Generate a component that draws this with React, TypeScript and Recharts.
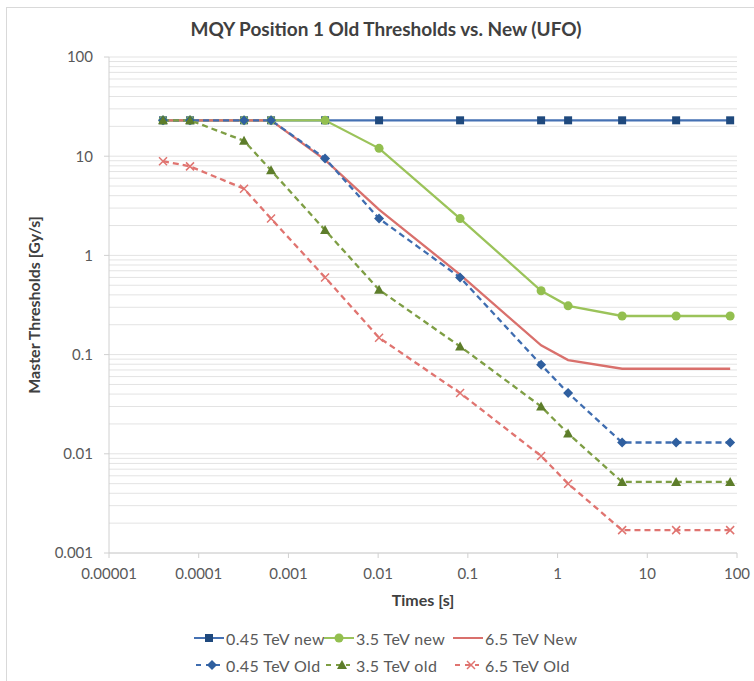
import React from 'react';
import { LineChart, Line, XAxis, YAxis, CartesianGrid } from 'recharts';

// BLM running-sum integration times [s]
const times = [4e-5, 8e-5, 3.2e-4, 6.4e-4, 2.56e-3, 1.024e-2, 8.192e-2, 0.65536, 1.31072, 5.24288, 20.97152, 83.88608];

const new045 = [23, 23, 23, 23, 23, 23, 23, 23, 23, 23, 23, 23];
const new35 = [23, 23, 23, 23, 23, 12, 2.35, 0.44, 0.31, 0.245, 0.245, 0.245];
const new65 = [23, 23, 23, 23, 9.2, 2.9, 0.64, 0.124, 0.088, 0.072, 0.072, 0.072];
const old045 = [23, 23, 23, 23, 9.5, 2.35, 0.6, 0.079, 0.041, 0.013, 0.013, 0.013];
const old35 = [23, 23, 14.3, 7.2, 1.8, 0.45, 0.121, 0.03, 0.016, 0.0052, 0.0052, 0.0052];
const old65 = [8.9, 7.9, 4.7, 2.35, 0.6, 0.148, 0.041, 0.0095, 0.005, 0.0017, 0.0017, 0.0017];

const xTicks = [1e-5, 1e-4, 1e-3, 1e-2, 1e-1, 1, 10, 100];
const xTickLabels = ['0.00001', '0.0001', '0.001', '0.01', '0.1', '1', '10', '100'];
const yTicks = [0.001, 0.01, 0.1, 1, 10, 100];
const yTickLabels = ['0.001', '0.01', '0.1', '1', '10', '100'];
// major + minor horizontal gridlines
const yGrid = [0.001, 0.002, 0.003, 0.004, 0.005, 0.006, 0.007, 0.008, 0.009,
  0.01, 0.02, 0.03, 0.04, 0.05, 0.06, 0.07, 0.08, 0.09,
  0.1, 0.2, 0.3, 0.4, 0.5, 0.6, 0.7, 0.8, 0.9,
  1, 2, 3, 4, 5, 6, 7, 8, 9,
  10, 20, 30, 40, 50, 60, 70, 80, 90, 100];

const data = times.map((t, i) => ({
  t,
  new045: new045[i],
  new35: new35[i],
  new65: new65[i],
  old045: old045[i],
  old35: old35[i],
  old65: old65[i],
}));

type Shape = 'square' | 'circle' | 'diamond' | 'triangle' | 'cross' | 'none';

const series: { key: string; name: string; stroke: string; dash?: string; marker: Shape; fill: string }[] = [
  { key: 'new045', name: '0.45 TeV new', stroke: '#4571b3', marker: 'square', fill: '#1f497d' },
  { key: 'new35', name: '3.5 TeV new', stroke: '#9bc35a', marker: 'circle', fill: '#93bf4f' },
  { key: 'new65', name: '6.5 TeV New', stroke: '#d9706c', marker: 'none', fill: '#d9706c' },
  { key: 'old045', name: '0.45 TeV Old', stroke: '#3f6db0', dash: '6 4', marker: 'diamond', fill: '#2f5f9f' },
  { key: 'old35', name: '3.5 TeV old', stroke: '#7e9e44', dash: '6 4', marker: 'triangle', fill: '#5d7d2a' },
  { key: 'old65', name: '6.5 TeV Old', stroke: '#e07470', dash: '6 4', marker: 'cross', fill: '#e07470' },
];

const FONT = 'Lato, "Open Sans", sans-serif';
const TEXT = '#595959';

function Marker({ cx, cy, shape, fill }: { cx: number; cy: number; shape: Shape; fill: string }) {
  if (cx == null || cy == null) return null;
  if (shape === 'square') return <rect x={cx - 4} y={cy - 4} width={8} height={8} fill={fill} />;
  if (shape === 'circle') return <circle cx={cx} cy={cy} r={4.5} fill={fill} />;
  if (shape === 'diamond')
    return <path d={`M${cx},${cy - 5}L${cx + 5},${cy}L${cx},${cy + 5}L${cx - 5},${cy}Z`} fill={fill} />;
  if (shape === 'triangle')
    return <path d={`M${cx},${cy - 5}L${cx + 5},${cy + 4}L${cx - 5},${cy + 4}Z`} fill={fill} />;
  if (shape === 'cross')
    return (
      <path
        d={`M${cx - 4},${cy - 4}L${cx + 4},${cy + 4}M${cx - 4},${cy + 4}L${cx + 4},${cy - 4}`}
        stroke={fill}
        strokeWidth={1.5}
      />
    );
  return <g />;
}

function LegendItem({ s }: { s: (typeof series)[number] }) {
  return (
    <div style={{ display: 'flex', alignItems: 'center', height: 20 }}>
      <svg width={30} height={14}>
        {s.dash ? (
          <line x1={2} y1={7} x2={26} y2={7} stroke={s.stroke} strokeWidth={2} strokeDasharray="5 5" />
        ) : (
          <line x1={0} y1={7} x2={30} y2={7} stroke={s.stroke} strokeWidth={2} />
        )}
        <Marker cx={s.dash ? 18 : 15} cy={7} shape={s.marker} fill={s.fill} />
      </svg>
      <span style={{ marginLeft: 2, fontSize: 16, letterSpacing: 0.4, color: TEXT, fontFamily: FONT, whiteSpace: 'nowrap' }}>
        {s.name}
      </span>
    </div>
  );
}

const legendCols = [194, 324, 453];
const legendRows = [628, 655];

export default function App() {
  return (
    <div style={{ position: 'absolute', left: 0, top: 0, width: 754, height: 681, background: '#fff', overflow: 'hidden' }}>
      <div style={{ position: 'absolute', left: 6, top: 7, width: 800, height: 800, borderLeft: '1px solid #d9d9d9', borderTop: '1px solid #d9d9d9' }} />
      <div
        style={{
          position: 'absolute', left: 0, top: 17, width: 772, textAlign: 'center',
          fontFamily: FONT, fontSize: 19, fontWeight: 700, color: '#404040',
        }}
      >
        MQY Position 1 Old Thresholds vs. New (UFO)
      </div>
      <div
        style={{
          position: 'absolute', left: 33, top: 305, transform: 'translate(-50%, -50%) rotate(-90deg)',
          fontFamily: FONT, fontSize: 16, fontWeight: 700, color: '#404040', whiteSpace: 'nowrap',
        }}
      >
        Master Thresholds [Gy/s]
      </div>
      <div
        style={{
          position: 'absolute', left: 423, top: 599, transform: 'translate(-50%, -50%)',
          fontFamily: FONT, fontSize: 16, fontWeight: 700, color: '#404040', whiteSpace: 'nowrap',
        }}
      >
        Times [s]
      </div>
      <div style={{ position: 'absolute', left: 0, top: 0 }}>
        <LineChart width={754} height={681} data={data} margin={{ top: 57, right: 17, bottom: 98, left: 49 }}>
          <CartesianGrid vertical={false} stroke="#e3e3e3" yAxisId="grid" />
          <XAxis
            dataKey="t"
            type="number"
            scale="log"
            domain={[1e-5, 100]}
            ticks={xTicks}
            allowDataOverflow
            height={30}
            stroke="#d0d0d0"
            tickSize={5}
            tickMargin={10}
            tick={{ fill: TEXT, fontSize: 15, fontFamily: FONT }}
            tickFormatter={(v: number) => xTickLabels[xTicks.indexOf(v)] ?? String(v)}
          />
          <YAxis
            yAxisId="grid"
            hide
            type="number"
            scale="log"
            domain={[0.001, 100]}
            ticks={yGrid}
            interval={0}
            allowDataOverflow
          />
          <YAxis
            type="number"
            scale="log"
            domain={[0.001, 100]}
            ticks={yTicks}
            allowDataOverflow
            width={60}
            stroke="#d0d0d0"
            tickSize={5}
            tickMargin={11}
            tick={{ fill: TEXT, fontSize: 15, fontFamily: FONT }}
            tickFormatter={(v: number) => yTickLabels[yTicks.indexOf(v)] ?? String(v)}
          />
          {series.map((s) => (
            <Line
              key={s.key}
              dataKey={s.key}
              name={s.name}
              type="linear"
              stroke={s.stroke}
              strokeWidth={2.3}
              strokeDasharray={s.dash}
              isAnimationActive={false}
              activeDot={false}
              dot={(p: any) => (
                <Marker key={`${s.key}-${p.index}`} cx={p.cx} cy={p.cy} shape={s.marker} fill={s.fill} />
              )}
            />
          ))}
        </LineChart>
      </div>
      {series.map((s, i) => (
        <div key={s.key} style={{ position: 'absolute', left: legendCols[i % 3], top: legendRows[Math.floor(i / 3)] }}>
          <LegendItem s={s} />
        </div>
      ))}
    </div>
  );
}
